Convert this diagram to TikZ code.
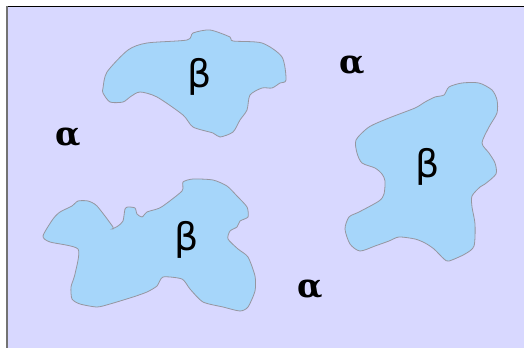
\documentclass[tikz,border=0pt]{standalone}
\usepackage{fontspec}
\newfontfamily\alphafont{DejaVu Serif}
\newfontfamily\betafont{DejaVu Sans}
\begin{document}
\begin{tikzpicture}[x=1pt,y=-1pt,
  grain/.style={fill=grainblue,draw=graingray,line width=0.8pt},
  alphalbl/.style={font=\alphafont\bfseries\fontsize{33}{36}\selectfont,inner sep=0pt},
  betalbl/.style={font=\betafont\fontsize{38}{42}\selectfont,inner sep=0pt}]
\definecolor{lav}{RGB}{216,216,255}
\definecolor{grainblue}{RGB}{166,214,250}
\definecolor{graingray}{RGB}{150,150,160}
\useasboundingbox (0,0) rectangle (524,348);
\fill[lav] (7,7) rectangle (524,348);
\draw[black,line width=1.8pt] (6,6.5) -- (524,6.5);
\draw[gray!90!black,line width=2pt] (7,6) -- (7,348);
% grain 1
\draw[grain] plot[smooth cycle,tension=0.45] coordinates {
(107,72) (128,50) (147,43) (187,40) (193,33) (210,30) (230,37) (233,41)
(262,43) (282,57) (286,80) (280,83) (272,88) (262,88) (250,95) (247,110)
(240,120) (233,132) (220,137) (213,133) (193,127) (183,115) (157,97)
(140,92) (130,97) (123,102) (110,102) (103,93) (103,88)};
% grain 2
\draw[grain] plot[smooth cycle,tension=0.45] coordinates {
(444,95) (449,87) (462,83) (479,83) (492,90) (497,100) (497,113) (489,127)
(482,143) (489,153) (495,163) (496,174) (485,184) (480,187) (472,196) (472,207)
(475,224) (474,246) (465,254) (449,261) (444,259) (434,249) (425,243)
(415,239) (399,237) (389,241) (375,246) (360,251) (350,244) (345,229)
(349,217) (359,212) (379,201) (384,194) (385,181) (382,174) (375,168)
(362,163) (357,153) (356,140) (369,127) (389,118) (415,108) (425,102) (435,97)};
% grain 3
\draw[grain] plot[smooth cycle,tension=0.4] coordinates {
(43,236) (53,219) (60,212) (72,206) (78,201) (88,201) (97,206) (113,227)
(112,229) (118,226) (123,221) (125,209) (128,207) (135,208) (137,214)
(142,217) (147,212) (157,209) (163,206) (182,191) (183,182) (193,179)
(213,180) (227,186) (237,196) (247,207) (248,217) (240,221) (237,227)
(230,231) (228,239) (238,249) (248,257) (255,276) (255,291) (248,307)
(240,311) (223,307) (203,302) (190,289) (182,279) (163,277) (157,286)
(147,292) (133,297) (110,304) (97,307) (80,304) (72,299) (71,287) (75,274)
(78,249) (50,242)};
\node[betalbl] (b1) at (200,77) {β};
\node[betalbl] (b2) at (428,167) {β};
\node[betalbl] (b3) at (187,240) {β};
\node[alphalbl] (a1) at (68,137) {α};
\node[alphalbl] (a2) at (352,65) {α};
\node[alphalbl] (a3) at (310,289) {α};
\end{tikzpicture}
\end{document}
